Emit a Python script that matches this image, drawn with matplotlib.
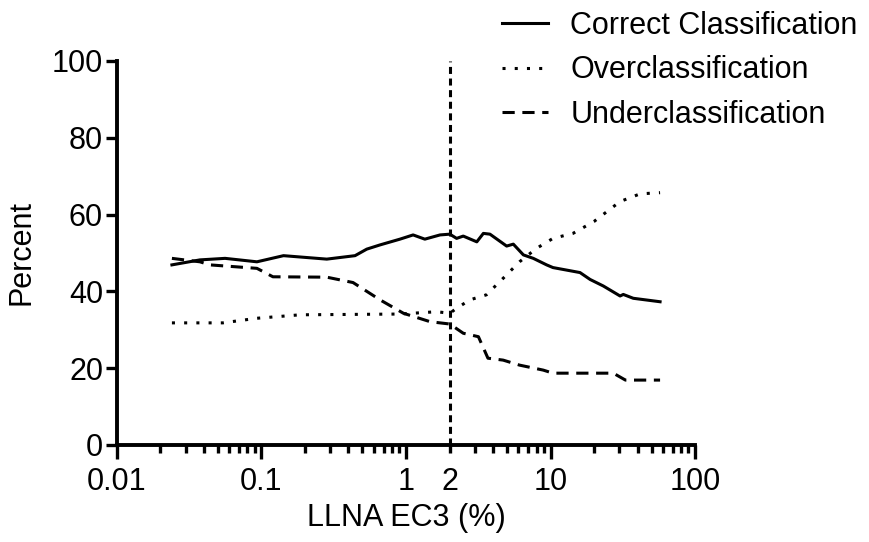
import numpy as np
import matplotlib
matplotlib.use("Agg")
from matplotlib import pyplot as plt
from matplotlib.ticker import FixedLocator, FixedFormatter

plt.rcParams["font.family"] = ["Liberation Sans", "DejaVu Sans"]

# data (LLNA EC3 in %, percent of substances)
correct_x = [0.024, 0.0375, 0.056, 0.093, 0.142, 0.283, 0.444, 0.535, 0.661, 0.908,
             1.12, 1.35, 1.72, 2.01, 2.24, 2.49, 3.09, 3.43, 3.81, 4.97, 5.53,
             6.49, 7.6, 9.4, 10.4, 16.0, 18.8, 23.2, 30.3, 31.9, 37.4, 57.3]
correct_y = [46.9, 48.2, 48.6, 47.7, 49.3, 48.4, 49.3, 51.0, 52.1, 53.6,
             54.7, 53.6, 54.7, 54.9, 53.8, 54.4, 52.9, 55.1, 54.9, 51.8, 52.3,
             49.5, 48.6, 46.9, 46.2, 44.9, 43.1, 41.4, 38.8, 39.2, 38.2, 37.3]

over_x = [0.024, 0.054, 0.093, 0.185, 0.908, 1.63, 2.01, 2.24, 2.77, 3.6,
          4.7, 6.1, 8.0, 10.4, 14.3, 20.0, 30.3, 41.7, 57.3]
over_y = [31.8, 31.8, 33.0, 33.9, 34.1, 34.7, 34.3, 35.6, 37.8, 39.1,
          43.4, 47.7, 51.2, 53.8, 55.1, 58.2, 63.4, 65.4, 65.7]

under_x = [0.024, 0.0375, 0.044, 0.093, 0.12, 0.283, 0.43, 0.661, 0.96, 1.47,
           2.01, 2.49, 3.17, 3.69, 4.7, 6.1, 8.9, 10.4, 27.2, 33.0, 57.3]
under_y = [48.6, 47.7, 46.9, 46.0, 43.8, 43.7, 42.3, 37.8, 34.3, 32.1,
           31.5, 29.1, 28.2, 22.6, 22.1, 20.8, 19.5, 18.7, 18.7, 16.9, 16.9]

cutoff = 2
x_major = [0.01, 0.1, 1, 10, 100]
x_major_labels = ["0.01", "0.1", "1", "10", "100"]
y_ticks = [0, 20, 40, 60, 80, 100]

FS = 22

fig = plt.figure(figsize=(8.69, 5.42), dpi=100)
ax = fig.add_axes([0.1346, 0.179, 0.6652, 0.7085])

lw = 2.2
ax.plot(correct_x, correct_y, color="black", lw=lw, solid_joinstyle="round",
        label="Correct Classification")
ax.plot(over_x, over_y, color="black", lw=lw, linestyle=(0, (1, 3)),
        label="Overclassification")
ax.plot(under_x, under_y, color="black", lw=lw, linestyle=(0, (4, 2.5)),
        label="Underclassification")
ax.plot([cutoff, cutoff], [0, 100], color="black", lw=2.2,
        linestyle=(0, (2.3, 1.5)))

ax.set_xscale("log")
ax.set_xlim(0.01, 100)
ax.set_ylim(0, 100)

ax.xaxis.set_major_locator(FixedLocator(x_major))
ax.xaxis.set_major_formatter(FixedFormatter(x_major_labels))
minor = [m * d for d in [0.01, 0.1, 1, 10] for m in range(2, 10)]
ax.xaxis.set_minor_locator(FixedLocator(minor))
ax.xaxis.set_minor_formatter(FixedFormatter(["2" if abs(v - cutoff) < 1e-9 else "" for v in minor]))
ax.set_yticks(y_ticks)

for s in ["top", "right"]:
    ax.spines[s].set_visible(False)
for s in ["left", "bottom"]:
    ax.spines[s].set_linewidth(2.8)

ax.tick_params(axis="both", which="major", length=10, width=2.4, labelsize=FS, direction="out")
ax.tick_params(axis="y", which="major", length=8, pad=2)
ax.tick_params(axis="x", which="major", pad=6)
ax.tick_params(axis="x", which="minor", length=6, width=2.4, labelsize=FS, pad=10)

ax.set_xlabel("LLNA EC3 (%)", fontsize=FS, labelpad=4)
ax.set_ylabel("Percent", fontsize=FS, labelpad=11)

fig.legend(loc="upper left", bbox_to_anchor=(0.564, 1.002), frameon=False,
           fontsize=FS, handlelength=1.5, handletextpad=0.72, labelspacing=0.47,
           borderaxespad=0)

fig.savefig("out.png", dpi=100)
